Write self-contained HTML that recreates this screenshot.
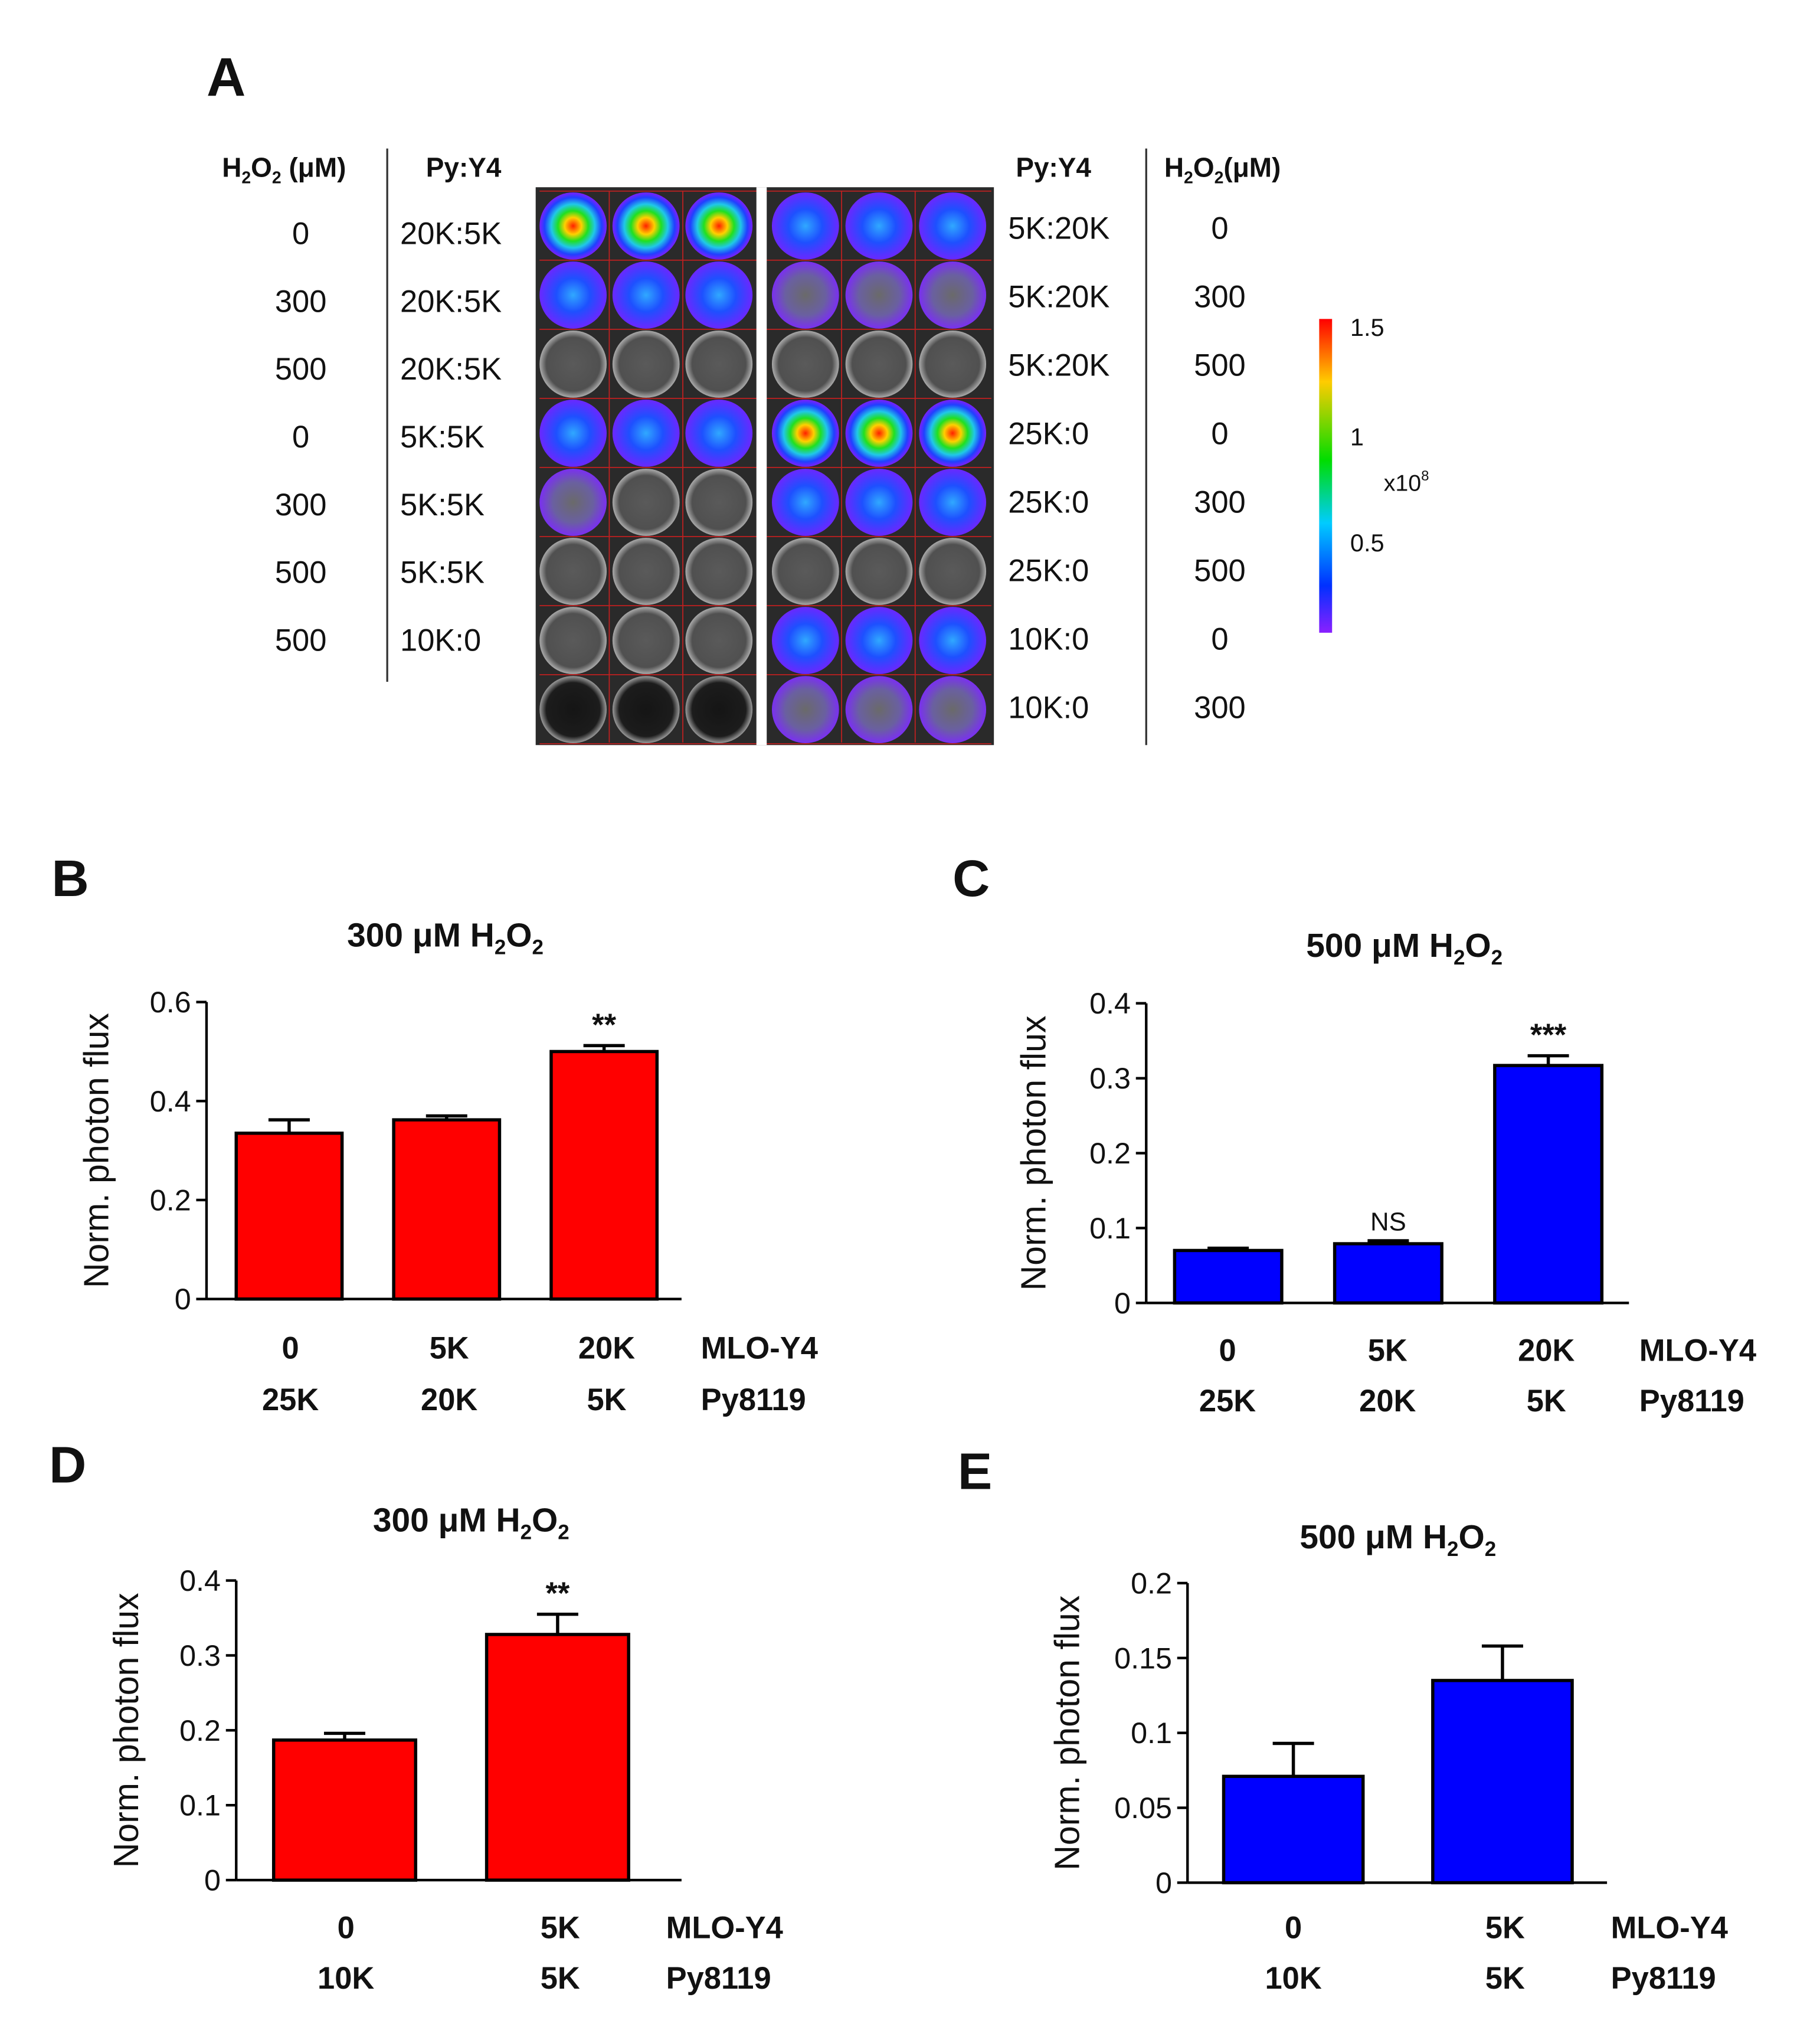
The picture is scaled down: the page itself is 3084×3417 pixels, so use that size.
<!DOCTYPE html>
<html><head><meta charset="utf-8"><style>
html,body{margin:0;padding:0;background:#fff}
svg{display:block}
text{font-family:"Liberation Sans",Arial,sans-serif;fill:#111}
.b{font-weight:bold}
</style></head><body>
<svg id="fig" width="3084" height="3417" viewBox="0 0 1410 1562" preserveAspectRatio="none" xmlns="http://www.w3.org/2000/svg">
<defs>
<radialGradient id="gh"><stop offset="0" stop-color="#ff2000"/><stop offset="0.25" stop-color="#ffd000"/><stop offset="0.45" stop-color="#20e020"/><stop offset="0.65" stop-color="#20c8e8"/><stop offset="0.85" stop-color="#2040ff"/><stop offset="1" stop-color="#7a20ff"/></radialGradient>
<radialGradient id="gb"><stop offset="0" stop-color="#30a8ff"/><stop offset="0.5" stop-color="#1e50ff"/><stop offset="1" stop-color="#6a28ff"/></radialGradient>
<radialGradient id="gp"><stop offset="0" stop-color="#6a6a6a"/><stop offset="0.6" stop-color="#6a60a0"/><stop offset="1" stop-color="#7a30f0"/></radialGradient>
<radialGradient id="gg"><stop offset="0" stop-color="#5a5a5a"/><stop offset="0.8" stop-color="#505050"/><stop offset="1" stop-color="#aaaaaa"/></radialGradient>
<radialGradient id="gk"><stop offset="0" stop-color="#151515"/><stop offset="0.8" stop-color="#1c1c1c"/><stop offset="1" stop-color="#999"/></radialGradient>
<linearGradient id="cbar" x1="0" y1="0" x2="0" y2="1"><stop offset="0" stop-color="#ff0000"/><stop offset="0.2" stop-color="#ffcc00"/><stop offset="0.45" stop-color="#00dd00"/><stop offset="0.65" stop-color="#00ccff"/><stop offset="0.85" stop-color="#0030ff"/><stop offset="1" stop-color="#8a20ff"/></linearGradient>
</defs>

<text x="160" y="74" font-size="42" class="b">A</text>
<g>
<text x="172" y="137" font-size="21" class="b">H<tspan font-size="13" dy="5">2</tspan><tspan dy="-5">O</tspan><tspan font-size="13" dy="5">2</tspan><tspan dy="-5"> (μM)</tspan></text>
<text x="330" y="137" font-size="21" class="b">Py:Y4</text>
<line x1="300" y1="115" x2="300" y2="528" stroke="#333" stroke-width="1.5"/>
</g>
<g>
<text x="787" y="137" font-size="21" class="b">Py:Y4</text>
<text x="902" y="137" font-size="21" class="b">H<tspan font-size="13" dy="5">2</tspan><tspan dy="-5">O</tspan><tspan font-size="13" dy="5">2</tspan><tspan dy="-5">(μM)</tspan></text>
<line x1="888" y1="115" x2="888" y2="577" stroke="#333" stroke-width="1.5"/>
</g>
<g id="rowlabels"></g>
<rect x="415" y="145" width="355" height="432" fill="#2a2a2a"/>
<g id="wells"></g>
<rect x="586" y="145" width="8" height="432" fill="#fff"/>
<g>
<rect x="1022" y="247" width="10" height="243" fill="url(#cbar)"/>
<text x="1046" y="260" font-size="19">1.5</text>
<text x="1046" y="345" font-size="19">1</text>
<text x="1046" y="427" font-size="19">0.5</text>
<text x="1072" y="380" font-size="18">x10<tspan font-size="11" dy="-8">8</tspan></text>
</g>

<g id="charts"></g>
</svg>
<script>
const NS="http://www.w3.org/2000/svg";
function mk(tag,attrs,parent,txt){const e=document.createElementNS(NS,tag);for(const k in attrs)e.setAttribute(k,attrs[k]);if(txt!==undefined)e.textContent=txt;parent.appendChild(e);return e;}

const leftH2O2=["0","300","500","0","300","500","500"];
const leftPy=["20K:5K","20K:5K","20K:5K","5K:5K","5K:5K","5K:5K","10K:0"];
const rightPy=["5K:20K","5K:20K","5K:20K","25K:0","25K:0","25K:0","10K:0","10K:0"];
const rightH2O2=["0","300","500","0","300","500","0","300"];
const leftWells=["hhh","bbb","ggg","bbb","pgg","ggg","ggg","kkk"];
const rightWells=["bbb","ppp","ggg","hhh","bbb","ggg","bbb","ppp"];
const rl=document.getElementById('rowlabels');
leftH2O2.forEach((v,i)=>{const y=189+i*52.5;
 const t=mk('text',{x:233,y:y,'font-size':24,'text-anchor':'middle'},rl,v);
 
 
 const t2=mk('text',{x:310,y:y,'font-size':24},rl,leftPy[i]);
 
 });
rightPy.forEach((v,i)=>{const y=185+i*53;
 const t=mk('text',{x:781,y:y,'font-size':24},rl,v);
 
 
 const t2=mk('text',{x:945,y:y,'font-size':24,'text-anchor':'middle'},rl,rightH2O2[i]);
 
 });
const wg=document.getElementById('wells');
function wells(rows,cx0,dx){rows.forEach((r,i)=>{[...r].forEach((c,j)=>{
 const w=mk('circle',{cx:cx0+j*dx,cy:175+i*53.5,r:26,fill:'url(#g'+c+')'},wg);
 
 });});}
wells(leftWells,444,56.5);wells(rightWells,624,57);
for(let i=0;i<=8;i++){mk('line',{x1:418,x2:768,y1:148+i*53.5,y2:148+i*53.5,stroke:'#c02020','stroke-width':0.8},wg);}
[472,529,652,709].forEach(x=>mk('line',{x1:x,x2:x,y1:148,y2:575,stroke:'#c02020','stroke-width':0.8},wg));

const catsMLO_B=["0","5K","20K"], catsPy_B=["25K","20K","5K"];
const valsB=[0.335,0.362,0.5], errB=[0.362,0.37,0.512], sigB=["","","**"];
const ticksB=[0,0.2,0.4,0.6], tickLabB=["0","0.2","0.4","0.6"];
const valsC=[0.07,0.079,0.317], errC=[0.073,0.083,0.33], sigC=["","NS","***"];
const ticksC=[0,0.1,0.2,0.3,0.4], tickLabC=["0","0.1","0.2","0.3","0.4"];
const catsMLO_D=["0","5K"], catsPy_D=["10K","5K"];
const valsD=[0.187,0.328], errD=[0.196,0.355], sigD=["","**"];
const ticksD=[0,0.1,0.2,0.3,0.4], tickLabD=["0","0.1","0.2","0.3","0.4"];
const valsE=[0.071,0.135], errE=[0.093,0.158], sigE=["",""];
const ticksE=[0,0.05,0.1,0.15,0.2], tickLabE=["0","0.05","0.1","0.15","0.2"];

const panels=[
 {id:'b',L:'B',lx:40,ly:694,title:'300',tx:345,ty:733,ax:160,x2:528,y0:1006,yTop:776,max:0.6,ticks:ticksB,tl:tickLabB,vals:valsB,err:errB,sig:sigB,bx:[183,305,427],bw:82,cm:catsMLO_B,cp:catsPy_B,cx:[225,348,470],lab1:1052,lab2:1092,mx:543,fill:'#ff0000',ylx:84},
 {id:'c',L:'C',lx:738,ly:694,title:'500',tx:1088,ty:741,ax:888,x2:1262,y0:1009,yTop:777,max:0.4,ticks:ticksC,tl:tickLabC,vals:valsC,err:errC,sig:sigC,bx:[910,1034,1158],bw:83,cm:catsMLO_B,cp:catsPy_B,cx:[951,1075,1198],lab1:1054,lab2:1093,mx:1270,fill:'#0000ff',ylx:810},
 {id:'d',L:'D',lx:38,ly:1148,title:'300',tx:365,ty:1186,ax:183,x2:528,y0:1456,yTop:1224,max:0.4,ticks:ticksD,tl:tickLabD,vals:valsD,err:errD,sig:sigD,bx:[212,377],bw:110,cm:catsMLO_D,cp:catsPy_D,cx:[268,434],lab1:1501,lab2:1540,mx:516,fill:'#ff0000',ylx:107},
 {id:'e',L:'E',lx:742,ly:1153,title:'500',tx:1083,ty:1199,ax:920,x2:1245,y0:1458,yTop:1226,max:0.2,ticks:ticksE,tl:tickLabE,vals:valsE,err:errE,sig:sigE,bx:[948,1110],bw:108,cm:catsMLO_D,cp:catsPy_D,cx:[1002,1166],lab1:1501,lab2:1540,mx:1248,fill:'#0000ff',ylx:836}
];
const ch=document.getElementById('charts');
panels.forEach(p=>{
 const g=mk('g',{},ch);
 
 
 const ys=v=>p.y0-(v/p.max)*(p.y0-p.yTop);
 const pl=mk('text',{x:p.lx,y:p.ly,'font-size':40,class:'b'},g,p.L);
 
 
 const t=mk('text',{x:p.tx,y:p.ty,'font-size':26,class:'b','text-anchor':'middle'},g);
 t.innerHTML=p.title+' μM H<tspan font-size="16" dy="6">2</tspan><tspan dy="-6">O</tspan><tspan font-size="16" dy="6">2</tspan>';
 
 
 const yl=mk('text',{x:0,y:0,'font-size':27,'text-anchor':'middle',transform:`translate(${p.ylx},${(p.y0+p.yTop)/2}) rotate(-90)`},g,'Norm. photon flux');
 
 
 p.vals.forEach((v,i)=>{
  const x=p.bx[i],cxm=x+p.bw/2;
  const ey=ys(p.err[i]);
  mk('line',{x1:cxm,x2:cxm,y1:ys(v),y2:ey,stroke:'#000','stroke-width':2.5},g);
  mk('line',{x1:cxm-16,x2:cxm+16,y1:ey,y2:ey,stroke:'#000','stroke-width':2.5},g);
  const r=mk('rect',{x:x,y:ys(v),width:p.bw,height:p.y0-ys(v),fill:p.fill,stroke:'#000','stroke-width':2.5},g);
  
  
  if(p.sig[i]){const ns=p.sig[i]==='NS';
   const s=mk('text',{x:cxm,y:ns?ey-8:ey-8,'font-size':ns?20:24,'text-anchor':'middle',class:ns?'':'b'},g,p.sig[i]);
   
   }
 });
 mk('line',{x1:p.ax,x2:p.ax,y1:p.yTop,y2:p.y0,stroke:'#000','stroke-width':2},g);
 mk('line',{x1:p.ax,x2:p.x2,y1:p.y0,y2:p.y0,stroke:'#000','stroke-width':2},g);
 p.ticks.forEach((tv,i)=>{const y=ys(tv);
  mk('line',{x1:p.ax-8,x2:p.ax,y1:y,y2:y,stroke:'#000','stroke-width':2},g);
  const tl=mk('text',{x:p.ax-12,y:y+8,'font-size':23,'text-anchor':'end'},g,p.tl[i]);
  
  });
 p.cm.forEach((c,i)=>{
  const a=mk('text',{x:p.cx[i],y:p.lab1,'font-size':24,class:'b','text-anchor':'middle'},g,c);
  
  
  const b=mk('text',{x:p.cx[i],y:p.lab2,'font-size':24,class:'b','text-anchor':'middle'},g,p.cp[i]);
  
  });
 const m=mk('text',{x:p.mx,y:p.lab1,'font-size':24,class:'b'},g,'MLO-Y4');
 
 
 const py=mk('text',{x:p.mx,y:p.lab2,'font-size':24,class:'b'},g,'Py8119');
 
 
});
</script>
</body></html>
